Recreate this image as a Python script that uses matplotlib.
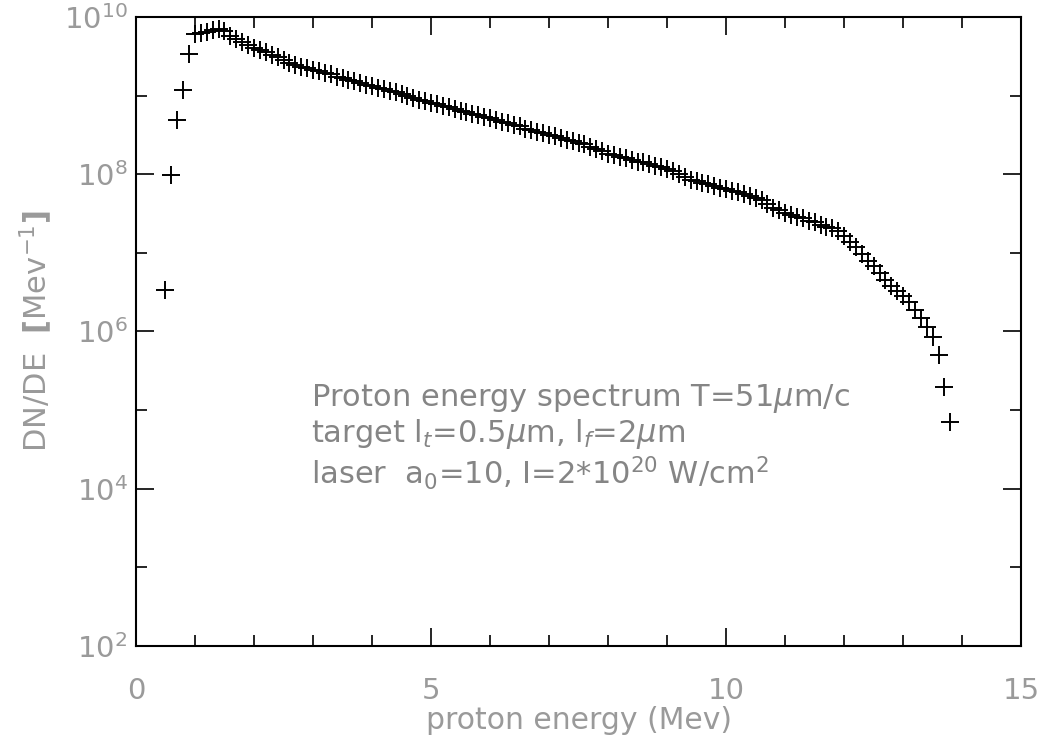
import matplotlib
matplotlib.use("Agg")
import matplotlib.pyplot as plt
from matplotlib.ticker import FixedLocator, NullFormatter

# proton energy (MeV)
energy = [0.5, 0.6, 0.7, 0.8, 0.9, 1.0, 1.1, 1.2, 1.3, 1.4,
          1.5, 1.6, 1.7, 1.8, 1.9, 2.0, 2.1, 2.2, 2.3, 2.4,
          2.5, 2.6, 2.7, 2.8, 2.9, 3.0, 3.1, 3.2, 3.3, 3.4,
          3.5, 3.6, 3.7, 3.8, 3.9, 4.0, 4.1, 4.2, 4.3, 4.4,
          4.5, 4.6, 4.7, 4.8, 4.9, 5.0, 5.1, 5.2, 5.3, 5.4,
          5.5, 5.6, 5.7, 5.8, 5.9, 6.0, 6.1, 6.2, 6.3, 6.4,
          6.5, 6.6, 6.7, 6.8, 6.9, 7.0, 7.1, 7.2, 7.3, 7.4,
          7.5, 7.6, 7.7, 7.8, 7.9, 8.0, 8.1, 8.2, 8.3, 8.4,
          8.5, 8.6, 8.7, 8.8, 8.9, 9.0, 9.1, 9.2, 9.3, 9.4,
          9.5, 9.6, 9.7, 9.8, 9.9, 10.0, 10.1, 10.2, 10.3, 10.4,
          10.5, 10.6, 10.7, 10.8, 10.9, 11.0, 11.1, 11.2, 11.3, 11.4,
          11.5, 11.6, 11.7, 11.8, 11.9, 12.0, 12.1, 12.2, 12.3, 12.4,
          12.5, 12.6, 12.7, 12.8, 12.9, 13.0, 13.1, 13.2, 13.3, 13.4,
          13.5, 13.6, 13.7, 13.8]

# log10 of DN/DE (1/MeV)
log10_dnde = [6.53, 7.99, 8.69, 9.07, 9.53, 9.78, 9.80, 9.81, 9.84, 9.85,
              9.82, 9.76, 9.72, 9.68, 9.64, 9.61, 9.58, 9.55, 9.52, 9.49,
              9.45, 9.42, 9.39, 9.37, 9.35, 9.33, 9.31, 9.29, 9.27, 9.24,
              9.22, 9.20, 9.18, 9.16, 9.14, 9.12, 9.10, 9.08, 9.06, 9.04,
              9.02, 9.00, 8.97, 8.95, 8.93, 8.91, 8.89, 8.87, 8.85, 8.83,
              8.81, 8.79, 8.77, 8.75, 8.73, 8.71, 8.69, 8.67, 8.65, 8.63,
              8.61, 8.58, 8.56, 8.54, 8.52, 8.50, 8.48, 8.46, 8.44, 8.42,
              8.40, 8.38, 8.35, 8.32, 8.29, 8.26, 8.24, 8.22, 8.20, 8.18,
              8.16, 8.15, 8.13, 8.11, 8.09, 8.07, 8.04, 8.00, 7.96, 7.93,
              7.91, 7.89, 7.87, 7.85, 7.83, 7.81, 7.79, 7.77, 7.75, 7.72,
              7.70, 7.67, 7.62, 7.57, 7.54, 7.51, 7.48, 7.46, 7.44, 7.41,
              7.39, 7.36, 7.33, 7.31, 7.28, 7.22, 7.14, 7.07, 6.99, 6.90,
              6.83, 6.75, 6.66, 6.58, 6.52, 6.45, 6.37, 6.27, 6.17, 6.06,
              5.93, 5.70, 5.29, 4.85]

dnde = [10 ** v for v in log10_dnde]

x_major = [0, 5, 10, 15]
x_minor = [1, 2, 3, 4, 6, 7, 8, 9, 11, 12, 13, 14]
y_major = [1e2, 1e4, 1e6, 1e8, 1e10]
y_major_labels = ["$10^{2}$", "$10^{4}$", "$10^{6}$", "$10^{8}$", "$10^{10}$"]
y_minor = [1e3, 1e5, 1e7, 1e9]

gray = "#9a9a9a"

fig = plt.figure(figsize=(10.42, 7.38), dpi=100)
ax = fig.add_axes([0.1305, 0.1247, 0.8495, 0.8523])

ax.plot(energy, dnde, linestyle="none", marker="+", markersize=12.5,
        markeredgewidth=1.4, color="black")

ax.set_yscale("log")
ax.set_xlim(0, 15)
ax.set_ylim(1e2, 1e10)

ax.xaxis.set_major_locator(FixedLocator(x_major))
ax.xaxis.set_minor_locator(FixedLocator(x_minor))
ax.set_xticklabels([str(v) for v in x_major])
ax.yaxis.set_major_locator(FixedLocator(y_major))
ax.yaxis.set_minor_locator(FixedLocator(y_minor))
ax.set_yticklabels(y_major_labels)
ax.yaxis.set_minor_formatter(NullFormatter())

ax.tick_params(which="both", direction="in", top=True, right=True,
               colors="black", labelcolor=gray, width=1.2)
ax.tick_params(which="major", length=13)
ax.tick_params(which="minor", length=8)
ax.tick_params(axis="x", which="major", labelsize=21, pad=22)
ax.tick_params(axis="y", which="major", labelsize=21, pad=6)
for sp in ax.spines.values():
    sp.set_linewidth(1.5)

ax.set_xlabel("proton energy (Mev)", fontsize=21.5, color=gray, labelpad=1)
ax.set_ylabel(r"DN/DE  $\mathbf{[}$Mev$^{-1}$$\mathbf{]}$", fontsize=22,
              color=gray, labelpad=6)

ax.text(0.198, 0.245,
        "Proton energy spectrum T=51$\\mu$m/c\n"
        "target l$_t$=0.5$\\mu$m, l$_f$=2$\\mu$m\n"
        "laser  a$_0$=10, I=2*10$^{20}$ W/cm$^2$",
        transform=ax.transAxes, fontsize=22, color="#858585",
        va="bottom", ha="left", linespacing=1.1)

fig.savefig("out.png", dpi=100)
